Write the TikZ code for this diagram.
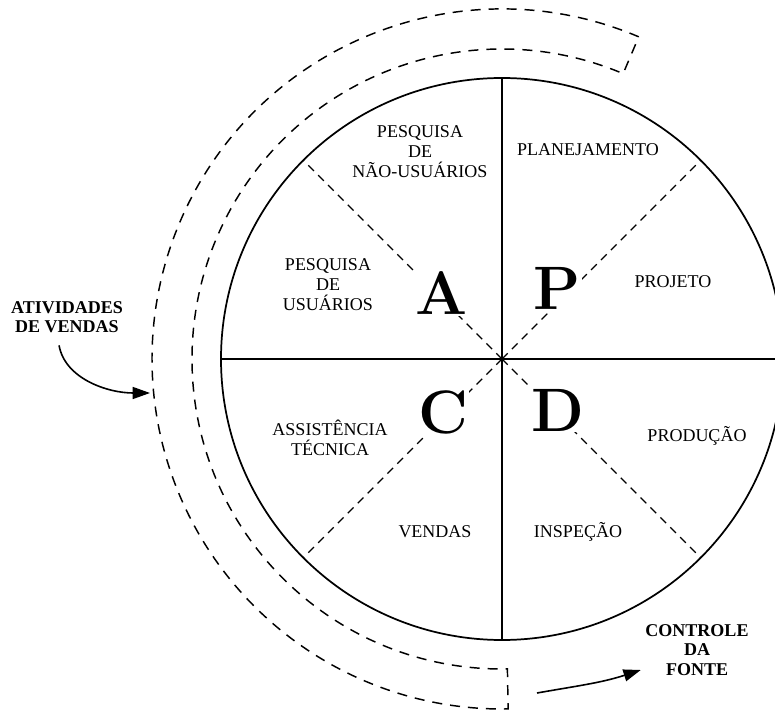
\documentclass[tikz,border=0pt]{standalone}
\usepackage{fontspec}
\newfontfamily\labelfont{Liberation Serif}
\usepackage{tikz}
\usetikzlibrary{arrows.meta}

\begin{document}
\begin{tikzpicture}[x=0.75pt,y=0.75pt,
    rim/.style={line width=1.3pt},
    spoke/.style={line width=1pt},
    halfspoke/.style={line width=1pt,dash pattern=on 6pt off 4.5pt},
    band/.style={line width=1.1pt,dash pattern=on 7.5pt off 6pt},
    sector/.style={font=\labelfont\fontsize{13.5}{15}\selectfont,align=center},
    phase/.style={font=\fontsize{46}{46}\selectfont\bfseries,fill=white,inner sep=1pt},
    side/.style={font=\labelfont\fontsize{13.5}{14.5}\selectfont\bfseries,align=center},
    pointer/.style={line width=1.2pt,-{Triangle[length=13pt,width=9pt]}}]
    \clip (0,0) rectangle (775,711);
    \coordinate (c) at (502,352);
    \draw[band] ([shift={(67:350)}]c) arc[start angle=67,end angle=271,radius=350]
        -- ([shift={(271:310)}]c) arc[start angle=271,end angle=67,radius=310] -- cycle;
    \foreach \a in {0,90,180,270} \draw[spoke] (c) -- +(\a:281);
    \foreach \a in {45,135,225,315} \draw[halfspoke] (c) -- +(\a:281);
    \draw[rim] (c) circle[radius=281];

    \node[sector] (naousu) at (420,559) {PESQUISA\\DE\\NÃO-USUÁRIOS};
    \node[sector] (plan) at (588,561) {PLANEJAMENTO};
    \node[sector] (usu) at (328,426) {PESQUISA\\DE\\USUÁRIOS};
    \node[sector] (proj) at (673,429) {PROJETO};
    \node[sector] (assist) at (330,273) {ASSISTÊNCIA\\TÉCNICA};
    \node[sector] (vendas) at (435,179) {VENDAS};
    \node[sector] (prod) at (697,275) {PRODUÇÃO};
    \node[sector] (insp) at (578,179) {INSPEÇÃO};

    \node[phase] (pa) at (442,418) {A};
    \node[phase] (pp) at (557,423) {P};
    \node[phase] (pc) at (443,299) {C};
    \node[phase] (pd) at (558,301) {D};

    \node[side] (ativ) at (67,394) {ATIVIDADES\\DE VENDAS};
    \node[side] (fonte) at (697,61) {CONTROLE\\DA\\FONTE};
    \coordinate (ativ-end) at (150,318);
    \coordinate (fonte-start) at (537,18);
    \draw[pointer,shorten <=6pt] ([xshift=-7]ativ.south) to[out=-80,in=180] (ativ-end);
    \draw[pointer] (fonte-start) to[out=10,in=-162] ([yshift=-15]fonte.west);
\end{tikzpicture}
\end{document}
